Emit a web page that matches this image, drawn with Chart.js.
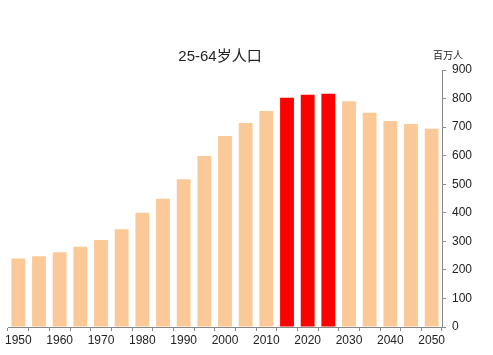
<!DOCTYPE html>
<html><head><meta charset="utf-8">
<script src="https://cdn.jsdelivr.net/npm/chart.js@4"></script>
<style>html,body{margin:0;padding:0;background:#fff}#w{width:493px;height:355px}</style>
</head><body><div id="w"><canvas id="c"></canvas></div>
<script>
const years = ['1950','1955','1960','1965','1970','1975','1980','1985','1990','1995','2000','2005','2010','2015','2020','2025','2030','2035','2040','2045','2050'];
const population = [240,248,262,281,305,342,400,449,517,599,669,714,756,803,813,817,791,750,721,711,694];
const highlightYears = ['2015','2020','2025'];
const yTicks = [0,100,200,300,400,500,600,700,800,900];
const titleText = '25-64岁人口';
const unitText = '百万人';

const FONT = '"Liberation Sans", Arial, "Noto Sans CJK SC", sans-serif';
const colors = years.map(y => highlightYears.includes(y) ? '#ff0000' : '#fbc997');

const textPlugin = {
  id: 'texts',
  afterDraw(chart) {
    const ctx = chart.ctx, a = chart.chartArea;
    ctx.save();
    ctx.fillStyle = '#222';
    ctx.textAlign = 'center';
    ctx.textBaseline = 'middle';
    ctx.font = '15px ' + FONT;
    ctx.fillText(titleText, (a.left + a.right) / 2 - 5, a.top - 13);
    ctx.font = '10px "Noto Sans CJK SC", sans-serif';
    ctx.fillText(unitText, a.right + 6, a.top - 15);
    ctx.restore();
  }
};

new Chart(document.getElementById('c'), {
  type: 'bar',
  data: { labels: years, datasets: [{ data: population, backgroundColor: colors, categoryPercentage: 1, barPercentage: 0.67 }] },
  options: {
    responsive: true, maintainAspectRatio: false, animation: false,
    layout: { padding: { left: 8, top: 70, right: 0, bottom: 0 } },
    plugins: { legend: { display: false }, title: { display: false }, tooltip: { enabled: false } },
    scales: {
      x: {
        grid: { display: true, drawOnChartArea: false, drawTicks: true, tickLength: 4, color: '#888', offset: true },
        border: { display: true, color: '#888' },
        ticks: { autoSkip: false, maxRotation: 0, color: '#222', font: { size: 12, family: FONT }, padding: 2,
          callback: function(v, i) { return i % 2 === 0 ? years[i] : ''; } },
        afterFit(s) { s.height = 28; }
      },
      y: {
        position: 'right', min: 0, max: 900,
        afterBuildTicks(s) { s.ticks = yTicks.map(v => ({ value: v })); },
        grid: { display: true, drawOnChartArea: false, drawTicks: true, tickLength: 4, color: '#888' },
        border: { display: true, color: '#888' },
        ticks: { color: '#222', font: { size: 12, family: FONT }, padding: 6 },
        afterFit(s) { s.width = 51; }
      }
    }
  },
  plugins: [textPlugin]
});
</script></body></html>
